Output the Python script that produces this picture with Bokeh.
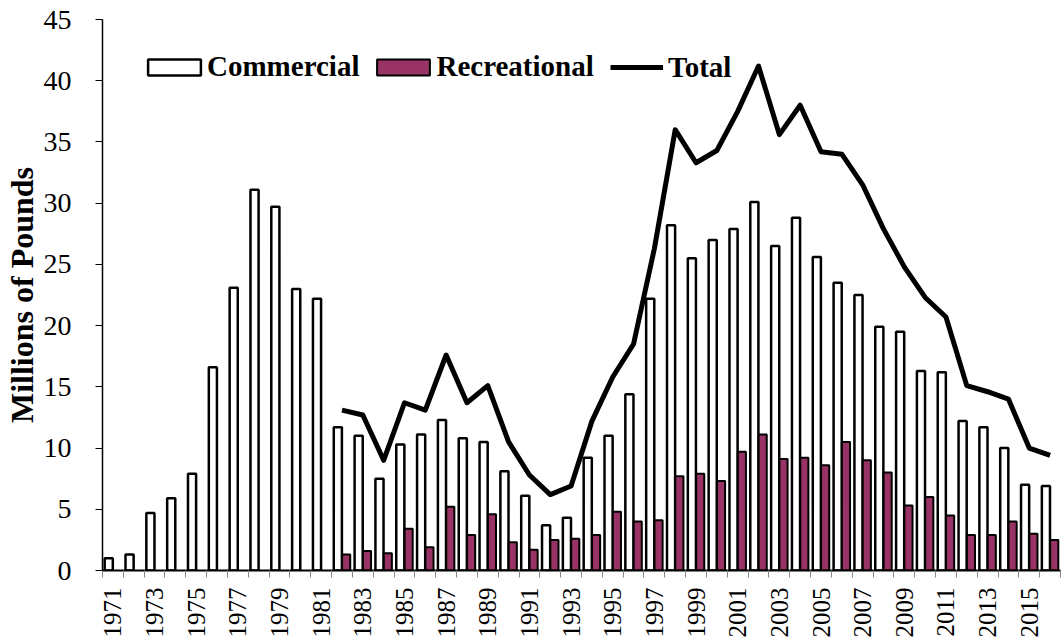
from math import pi
from bokeh.plotting import figure
from bokeh.models import ColumnDataSource, Range1d, FixedTicker, Legend, LegendItem
from bokeh.transform import dodge
from bokeh.embed import file_html
from bokeh.resources import INLINE

# ---- data (millions of pounds) ----
years = list(range(1971, 2017))
commercial = [1.0, 1.3, 4.7, 5.9, 7.9, 16.6, 23.1, 31.1, 29.7, 23.0,
              22.2, 11.7, 11.0, 7.5, 10.3, 11.1, 12.3, 10.8, 10.5, 8.1,
              6.1, 3.7, 4.3, 9.2, 11.0, 14.4, 22.2, 28.2, 25.5, 27.0,
              27.9, 30.1, 26.5, 28.8, 25.6, 23.5, 22.5, 19.9, 19.5, 16.3,
              16.2, 12.2, 11.7, 10.0, 7.0, 6.9]
rec_years = list(range(1982, 2017))
recreational = [1.3, 1.6, 1.4, 3.4, 1.9, 5.2, 2.9, 4.6, 2.3, 1.7,
                2.5, 2.6, 2.9, 4.8, 4.0, 4.1, 7.7, 7.9, 7.3, 9.7,
                11.1, 9.1, 9.2, 8.6, 10.5, 9.0, 8.0, 5.3, 6.0, 4.5,
                2.9, 2.9, 4.0, 3.0, 2.5]
total = [13.1, 12.7, 9.0, 13.7, 13.1, 17.6, 13.7, 15.1, 10.5, 7.8,
         6.2, 6.9, 12.2, 15.8, 18.5, 26.3, 36.0, 33.3, 34.3, 37.5,
         41.2, 35.6, 38.0, 34.2, 34.0, 31.5, 27.9, 24.8, 22.3, 20.7,
         15.1, 14.6, 14.0, 10.0, 9.4]
tick_years = list(range(1971, 2017, 2))
y_ticks = list(range(0, 46, 5))

FONT = "Liberation Serif"

p = figure(width=1061, height=644, output_backend="svg", toolbar_location=None,
           x_range=Range1d(1970.5, 2016.5), y_range=Range1d(0, 45),
           min_border_left=102, min_border_right=1, min_border_top=19,
           min_border_bottom=74)
p.outline_line_color = None
p.grid.visible = False
p.background_fill_color = "white"
p.border_fill_color = "white"

c_src = ColumnDataSource(dict(year=years, value=commercial))
r_src = ColumnDataSource(dict(year=rec_years, value=recreational))
t_src = ColumnDataSource(dict(year=rec_years, value=total))

rc = p.vbar(x=dodge("year", -0.2), top="value", bottom=0, width=0.39, source=c_src,
            fill_color="white", line_color="black", line_width=2.5)
rr = p.vbar(x=dodge("year", 0.2), top="value", bottom=0, width=0.39, source=r_src,
            fill_color="#993366", line_color="black", line_width=2)
rt = p.line(x="year", y="value", source=t_src, line_color="black",
            line_width=5, line_join="round")

# x axis
xa = p.xaxis[0]
xa.ticker = FixedTicker(ticks=tick_years, minor_ticks=[y - 0.5 for y in years] + [years[-1] + 0.5])
xa.major_label_orientation = pi / 2
xa.major_label_text_font = FONT
xa.major_label_text_font_size = "25px"
xa.major_label_text_color = "black"
xa.major_label_standoff = 10
xa.major_tick_line_color = None
xa.major_tick_out = 7
xa.major_tick_in = 0
xa.minor_tick_line_color = "#888888"
xa.minor_tick_out = 7
xa.minor_tick_in = 0
xa.axis_line_color = "black"
xa.axis_line_width = 2

# y axis
ya = p.yaxis[0]
ya.ticker = FixedTicker(ticks=y_ticks)
ya.minor_tick_line_color = None
ya.major_tick_out = 7
ya.major_tick_in = 0
ya.major_tick_line_color = "black"
ya.axis_line_color = "black"
ya.axis_line_width = 1.5
ya.major_label_text_font = FONT
ya.major_label_text_font_size = "28px"
ya.major_label_text_color = "black"
ya.major_label_standoff = 24
ya.axis_label = "Millions of Pounds"
ya.axis_label_text_font = FONT
ya.axis_label_text_font_style = "bold"
ya.axis_label_text_font_size = "32px"
ya.axis_label_text_color = "black"
ya.axis_label_standoff = 1

common = dict(orientation="horizontal", margin=0, border_line_color=None,
              background_fill_color="white", background_fill_alpha=1.0,
              label_text_font=FONT, label_text_font_style="bold",
              label_text_font_size="29px", label_text_color="black")

legA = Legend(items=[LegendItem(label="Commercial", renderers=[rc]),
                     LegendItem(label="Recreational", renderers=[rr])],
              location=(39, 487), glyph_width=66, glyph_height=20,
              label_standoff=0, spacing=11, padding=5, **common)
legB = Legend(items=[LegendItem(label="Total", renderers=[rt])],
              location=(508, 473), glyph_width=53, glyph_height=60,
              label_standoff=5, padding=10, label_width=70, **common)
p.add_layout(legA)
p.add_layout(legB)

open("out.html", "w").write(file_html(p, INLINE))
